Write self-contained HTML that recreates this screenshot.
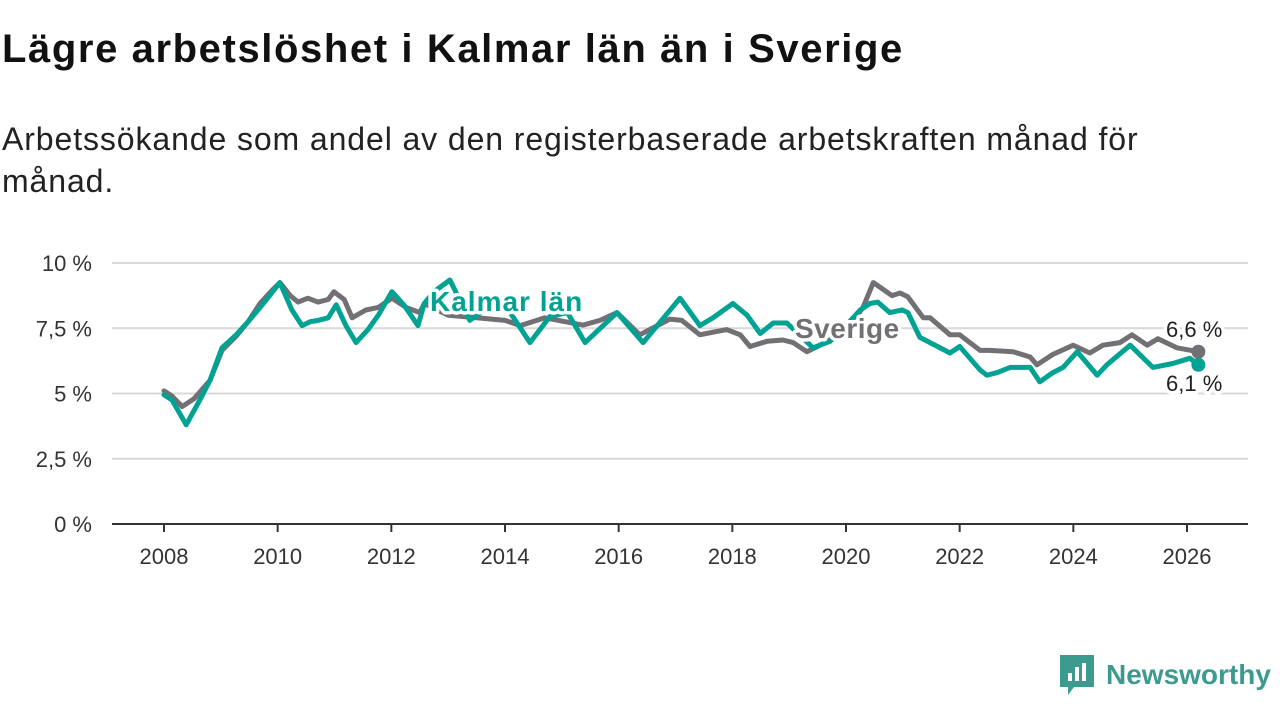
<!DOCTYPE html>
<html><head><meta charset="utf-8"><style>
body{margin:0;width:1280px;height:720px;background:#fff;font-family:"Liberation Sans",sans-serif;overflow:hidden}
h1{position:absolute;left:2px;top:27px;margin:0;font-size:40px;font-weight:bold;color:#111;letter-spacing:1.6px}
p{position:absolute;left:2px;top:118px;margin:0;font-size:32px;line-height:42px;color:#222;width:1200px;letter-spacing:0.9px}
svg{position:absolute;left:0;top:0}
</style></head><body>
<h1>Lägre arbetslöshet i Kalmar län än i Sverige</h1>
<p>Arbetssökande som andel av den registerbaserade arbetskraften månad för månad.</p>
<svg id="c" width="1280" height="720"></svg>
<script>
const seYears=[2008,2008.14,2008.32,2008.53,2008.81,2009.02,2009.27,2009.48,2009.69,2009.9,2010.04,2010.22,2010.36,2010.53,2010.71,2010.89,2010.99,2011.17,2011.31,2011.55,2011.77,2012.01,2012.26,2012.5,2012.58,2013,2013.5,2014,2014.27,2014.7,2015.37,2015.67,2015.97,2016.37,2016.9,2017.11,2017.43,2017.66,2017.9,2018.14,2018.31,2018.61,2018.89,2019.07,2019.31,2019.54,2020,2020.3,2020.48,2020.81,2020.95,2021.09,2021.36,2021.48,2021.83,2022,2022.36,2022.53,2022.94,2023.24,2023.36,2023.64,2024,2024.29,2024.52,2024.82,2025.03,2025.3,2025.49,2025.82,2026.2];
const seValues=[5.1,4.9,4.5,4.8,5.5,6.65,7.2,7.75,8.45,8.95,9.25,8.75,8.5,8.65,8.5,8.6,8.9,8.6,7.9,8.2,8.3,8.65,8.3,8.1,8.45,8.0,7.9,7.8,7.6,7.9,7.62,7.8,8.1,7.25,7.85,7.8,7.25,7.35,7.45,7.25,6.8,7.0,7.05,6.95,6.6,6.85,7.4,8.3,9.25,8.75,8.85,8.7,7.9,7.9,7.25,7.25,6.65,6.65,6.6,6.4,6.1,6.5,6.85,6.55,6.85,6.95,7.25,6.85,7.1,6.75,6.6];
const kaYears=[2008,2008.14,2008.39,2008.63,2008.81,2009.02,2009.27,2009.48,2009.73,2010.04,2010.25,2010.43,2010.57,2010.71,2010.89,2011.03,2011.2,2011.38,2011.59,2011.77,2012.01,2012.22,2012.47,2012.58,2012.75,2013.03,2013.38,2013.7,2014,2014.44,2014.79,2015.1,2015.41,2015.97,2016.43,2017.08,2017.43,2017.66,2018.01,2018.26,2018.49,2018.72,2018.96,2019.42,2019.72,2020,2020.25,2020.42,2020.56,2020.77,2020.99,2021.09,2021.3,2021.48,2021.83,2022,2022.36,2022.48,2022.66,2022.89,2023.24,2023.41,2023.64,2023.82,2024.07,2024.42,2024.59,2025,2025.4,2025.75,2026.05,2026.2];
const kaValues=[4.95,4.75,3.8,4.75,5.5,6.75,7.25,7.75,8.4,9.25,8.2,7.6,7.75,7.8,7.9,8.4,7.6,6.95,7.45,8.0,8.9,8.4,7.6,8.45,8.9,9.35,7.8,8.3,8.4,6.95,7.95,8.1,6.95,8.1,6.95,8.65,7.6,7.9,8.45,8.0,7.3,7.7,7.7,6.75,7.0,7.6,8.2,8.45,8.5,8.1,8.2,8.1,7.15,6.95,6.55,6.8,5.9,5.7,5.8,6.0,6.0,5.45,5.8,6.0,6.6,5.7,6.1,6.85,6.0,6.15,6.35,6.1];
const yTicks=[0,2.5,5,7.5,10];
const yTickLabels=["0 %","2,5 %","5 %","7,5 %","10 %"];
const xTicks=[2008,2010,2012,2014,2016,2018,2020,2022,2024,2026];
const NS="http://www.w3.org/2000/svg",svg=document.getElementById('c');
const X=t=>164+(t-2008)*(1187-164)/18, Y=v=>524-v*26.1;
function mk(tag,at,txt){const e=document.createElementNS(NS,tag);for(const k in at)e.setAttribute(k,at[k]);if(txt!==undefined)e.textContent=txt;svg.appendChild(e);return e;}
yTicks.forEach((v,i)=>{
 if(v>0){const g=mk('line',{x1:112,x2:1248,y1:Y(v),y2:Y(v),stroke:'#d9d9d9','stroke-width':2});
 
 }
 const t=mk('text',{x:92,y:Y(v)+8,'text-anchor':'end','font-size':22,fill:'#333'},yTickLabels[i]);
 
 
});
const ax=mk('line',{x1:112,x2:1248,y1:524,y2:524,stroke:'#333','stroke-width':2});


xTicks.forEach(yr=>{
 const tk=mk('line',{x1:X(yr),x2:X(yr),y1:524,y2:532,stroke:'#333','stroke-width':2});
 
 
 const t=mk('text',{x:X(yr),y:564,'text-anchor':'middle','font-size':22,fill:'#333'},yr);
 
 
});
function line(ys,vs,col,name){
 const d=ys.map((t,i)=>(i?'L':'M')+X(t).toFixed(1)+' '+Y(vs[i]).toFixed(1)).join(' ');
 const p=mk('path',{d:d,fill:'none',stroke:col,'stroke-width':5,'stroke-linejoin':'round','stroke-linecap':'round'});
 
 
 const c=mk('circle',{cx:X(ys[ys.length-1]),cy:Y(vs[vs.length-1]),r:7,fill:col});
 
 
}
line(seYears,seValues,'#737075','sverige-line');
line(kaYears,kaValues,'#00a393','kalmar-line');
function lab(x,y,txt,col,w,name,sz,ls){
 const t=mk('text',{x:x,y:y,'font-size':sz,'font-weight':w,fill:col,stroke:'#fff','stroke-width':7,'paint-order':'stroke','stroke-linejoin':'round','letter-spacing':ls},txt);
 
 
}
lab(430,311,'Kalmar län','#00a393','bold','kalmar-label',28,1);
lab(795,338,'Sverige','#737075','bold','sverige-label',28,0.5);
lab(1166,337,'6,6 %','#222','normal','sverige-end-value',22,0);
lab(1166,391,'6,1 %','#222','normal','kalmar-end-value',22,0);
</script>
<div style="position:absolute;left:1060px;top:655px;display:flex;align-items:center">
 <svg width="34" height="40" viewBox="0 0 34 40" style="position:static"><path d="M0 0H34V32H14L8 40V32H0Z" fill="#3d9a8f"/><rect x="8" y="18" width="4" height="8" fill="#fff"/><rect x="15" y="12" width="4" height="14" fill="#fff"/><rect x="22" y="8" width="4" height="18" fill="#fff"/></svg>
 <span style="font-size:28px;font-weight:bold;color:#3d9a8f;margin-left:12px">Newsworthy</span>
</div>
</body></html>
